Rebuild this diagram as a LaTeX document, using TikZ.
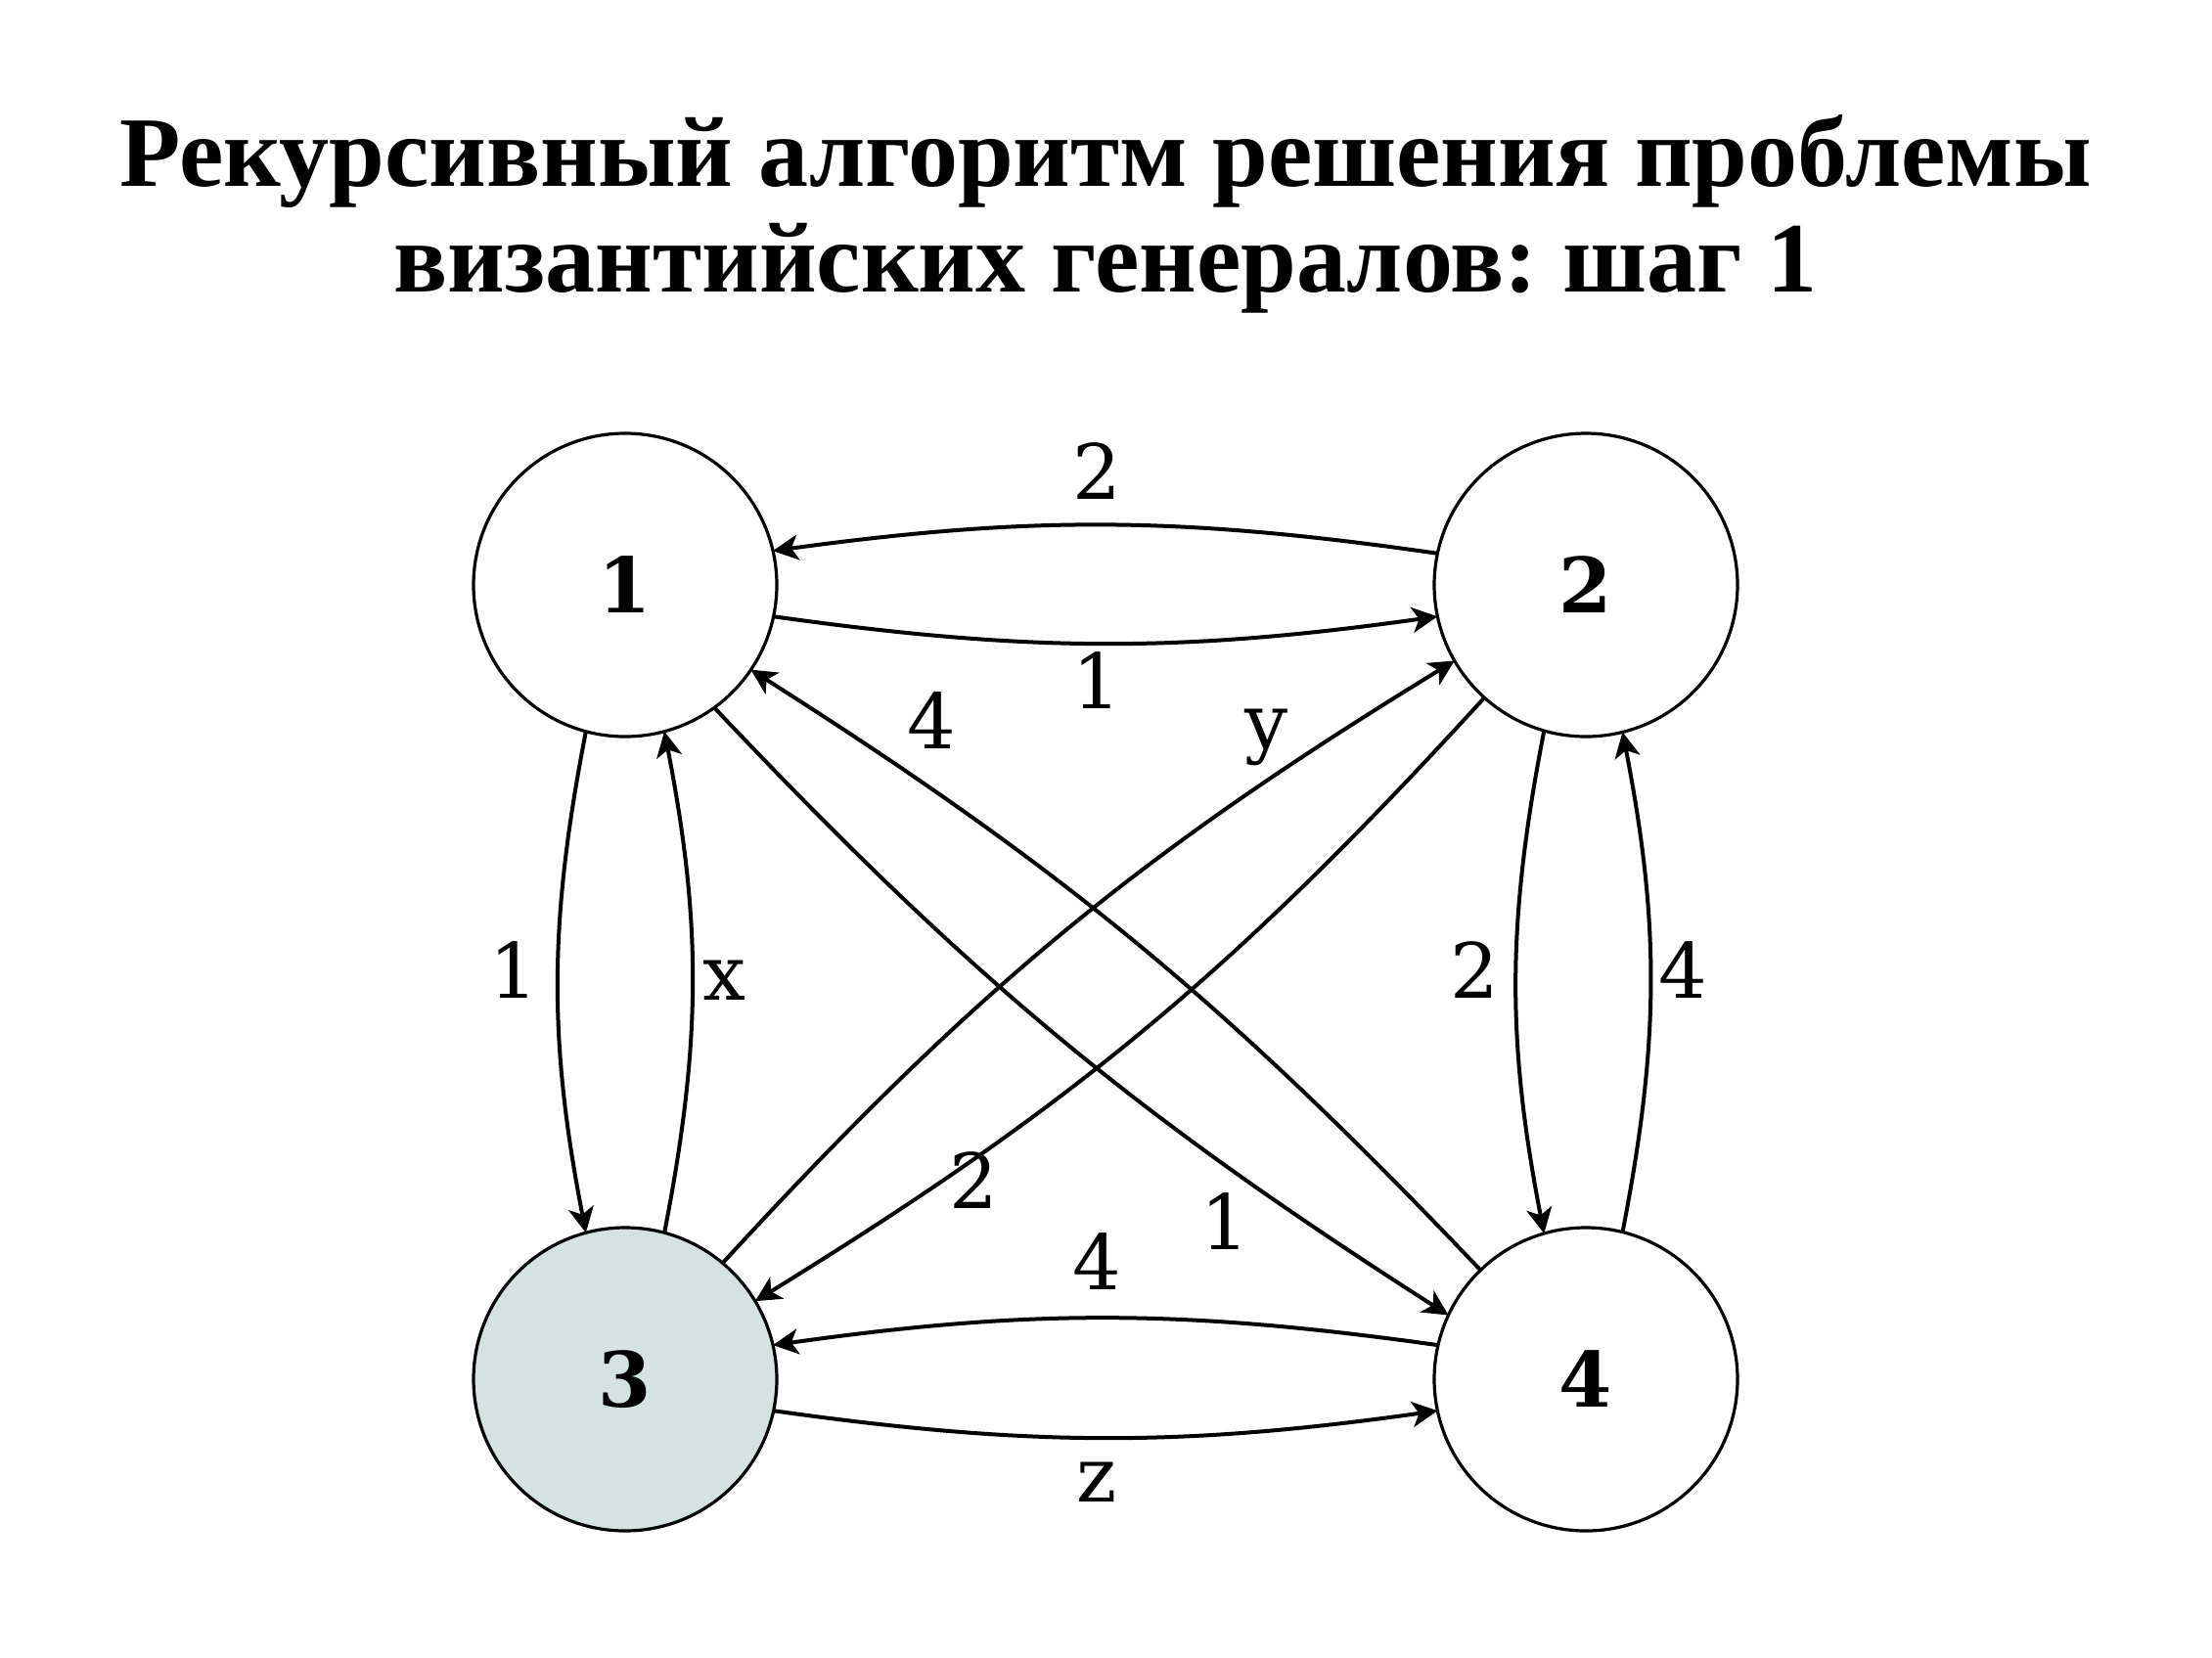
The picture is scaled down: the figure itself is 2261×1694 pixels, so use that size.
\documentclass[tikz,border=0pt]{standalone}
\usepackage{fontspec}
\setmainfont{Liberation Serif}
\newfontfamily\lblfont{DejaVu Serif}
\usetikzlibrary{arrows.meta}
\definecolor{nodefill}{RGB}{213,226,226}
\frenchspacing
\begin{document}
\begin{tikzpicture}[x=0.5pt,y=0.5pt,
  gen/.style={circle, draw, line width=1.6pt, minimum size=155pt, inner sep=0pt, outer sep=0pt, font=\lblfont\bfseries\fontsize{39}{39}\selectfont},
  msg/.style={line width=2pt, -{Stealth[length=13pt,width=13pt,inset=3.5pt]}},
  lbl/.style={anchor=base, inner sep=0pt, font=\lblfont\fontsize{39}{39}\selectfont},
  ttl/.style={anchor=base, inner sep=0pt, font=\bfseries\fontsize{51}{51}\selectfont}]
\useasboundingbox (0,0) rectangle (2261,-1694);
\fill[white] (0,0) rectangle (2261,-1694);

\node[ttl] (t1) at (1130,-190) {Рекурсивный алгоритм решения проблемы};
\node[ttl] (t2) at (1130,-298) {византийских генералов: шаг 1};

\node[gen] (n1) at (639,-598) {1};
\node[gen] (n2) at (1621,-598) {2};
\node[gen, fill=nodefill] (n3) at (639,-1410) {3};
\node[gen] (n4) at (1621,-1410) {4};

\draw[msg] (n1.-12) to[bend right=8] (n2.192);
\draw[msg] (n2.168) to[bend right=8] (n1.13);
\draw[msg] (n3.-12) to[bend right=8] (n4.192);
\draw[msg] (n4.167) to[bend right=8] (n3.13);
\draw[msg] (n1.-105) to[bend right=11] (n3.105);
\draw[msg] (n3.75) to[bend right=11] (n1.-75);
\draw[msg] (n2.-106) to[bend right=11] (n4.106);
\draw[msg] (n4.76) to[bend right=11] (n2.-76);
\draw[msg] (n1.-54) to[bend right=7] (n4.155);
\draw[msg] (n4.134) to[bend right=7] (n1.-34);
\draw[msg] (n3.50) to[bend left=8] (n2.210);
\draw[msg] (n2.228) to[bend left=8] (n3.31);

\node[lbl] (l21) at (1121,-510) {2};
\node[lbl] (l12) at (1121,-724) {1};
\node[lbl] (l13) at (525,-1020) {1};
\node[lbl] (l31) at (740,-1022) {x};
\node[lbl] (l24) at (1507,-1020) {2};
\node[lbl] (l42) at (1720,-1020) {4};
\node[lbl] (l41) at (952,-765) {4};
\node[lbl] (l32) at (1295,-765) {y};
\node[lbl] (l23) at (995,-1235) {2};
\node[lbl] (l14) at (1252,-1277) {1};
\node[lbl] (l43) at (1121,-1318) {4};
\node[lbl] (l34) at (1121,-1535) {z};
\end{tikzpicture}
\end{document}
